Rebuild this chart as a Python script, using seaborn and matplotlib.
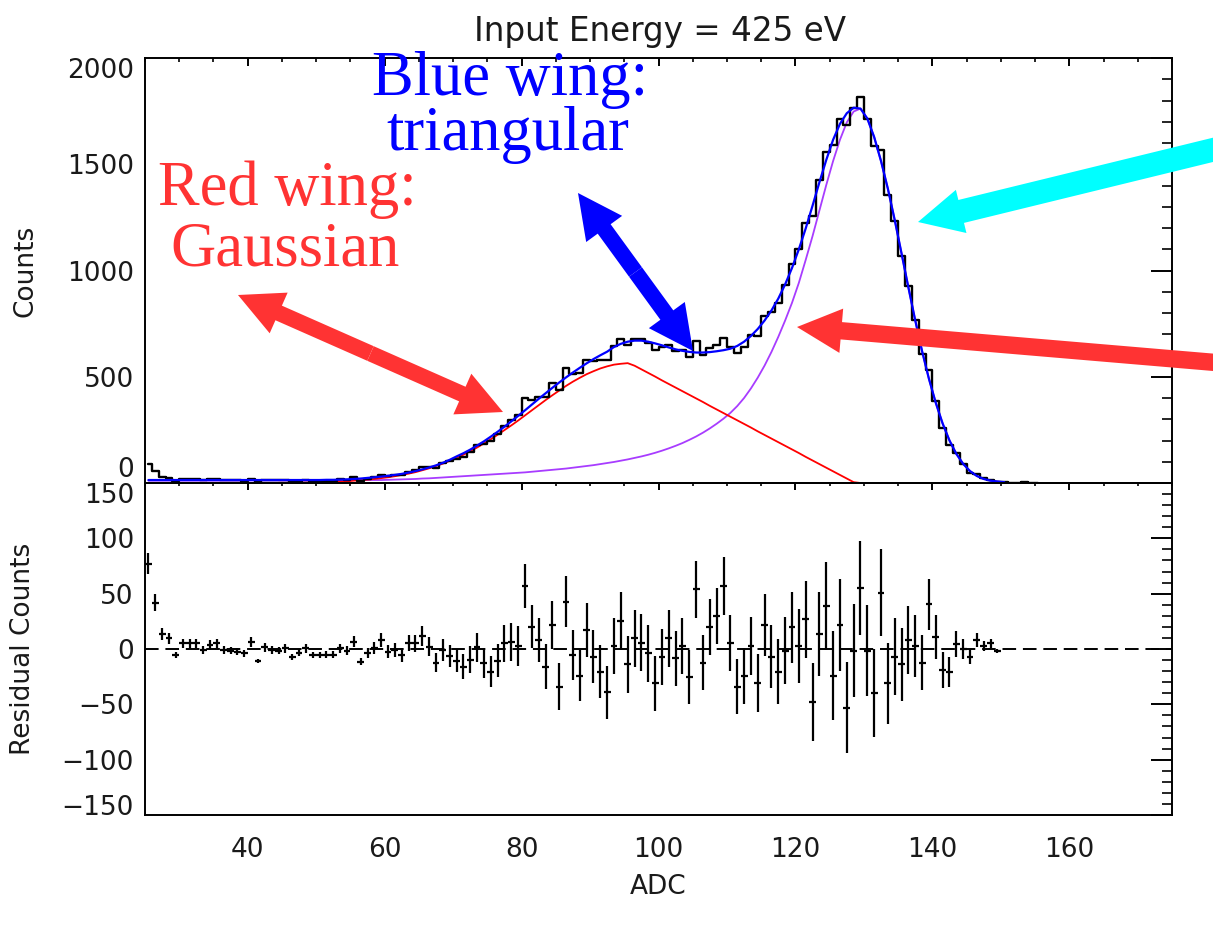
import numpy as np
import matplotlib
matplotlib.use("Agg")
import matplotlib.pyplot as plt
import seaborn as sns
from matplotlib.patches import FancyArrowPatch, ArrowStyle
from matplotlib.ticker import MultipleLocator

# ---------------- data ----------------
first_bin = 25
# histogram counts, ADC bins 25 .. 155
counts = [91, 56, 28, 24, 9, 19, 19, 19, 13, 18,
          19, 13, 12, 12, 10, 21, 3, 16, 13, 12,
          15, 7, 11, 15, 9, 9, 10, 10, 17, 16,
          26, 10, 21, 28, 38, 32, 37, 38, 54, 61,
          76, 75, 71, 94, 103, 115, 124, 147, 178, 184,
          198, 231, 270, 297, 319, 399, 389, 404, 406, 470,
          439, 540, 515, 518, 580, 576, 581, 579, 643, 680,
          651, 680, 676, 661, 626, 641, 648, 621, 625, 591,
          668, 602, 636, 650, 682, 638, 611, 641, 695, 694,
          787, 805, 848, 933, 1032, 1103, 1225, 1257, 1428, 1559,
          1591, 1712, 1687, 1764, 1817, 1713, 1588, 1566, 1354, 1231,
          1066, 928, 768, 608, 530, 388, 261, 179, 141, 90,
          49, 41, 22, 16, 5, 3, 2, 1, 3, 1, 1]

# total fit (blue), ADC 25 .. 150
total_fit = [14] * 26 + [
    15, 15, 16, 17, 19, 21, 24, 27, 30,
    34, 38, 43, 49, 56, 64, 73, 83, 95, 109,
    125, 140, 157, 176, 196, 218, 241, 265, 290, 316,
    342, 369, 396, 422, 448, 473, 497, 520, 542, 563,
    583, 601, 618, 640, 655, 665, 670, 670, 665, 657,
    648, 638, 629, 622, 617, 614, 614, 616, 620, 625,
    632, 645, 665, 692, 725, 765, 812, 868, 935, 1012,
    1100, 1198, 1305, 1415, 1520, 1615, 1690, 1740, 1766, 1762,
    1715, 1628, 1515, 1385, 1238, 1080, 920, 765, 620, 490,
    377, 280, 200, 137, 90, 56, 33, 19, 11, 7, 4]

# main peak component (purple), ADC 25 .. 150
peak_comp = [11] * 15 + [12] * 10 + [13] * 5 + [14] * 5 + [
    15, 16, 17, 18, 19, 21, 22, 24, 26, 28,
    30, 32, 34, 36, 38, 40, 42, 44, 46, 48,
    50, 53, 56, 59, 62, 65, 68, 72, 76, 80,
    84, 89, 94, 99, 105, 111, 118, 125, 133, 142,
    152, 163, 175, 188, 203, 219, 237, 257, 279, 303,
    330, 362, 400, 445, 496, 553, 617, 688, 765, 848,
    942, 1050, 1162, 1282, 1402, 1515, 1615, 1697, 1748, 1762,
    1715, 1628, 1515, 1385, 1238, 1080, 920, 765, 620, 490,
    377, 280, 200, 137, 90, 56, 33, 19, 11, 7, 4]

# low-energy wing component (red), ADC 44 .. 129
wing_first = 44
wing_comp = [1, 1, 1, 2, 2, 3,
             4, 4, 5, 7, 8, 11, 13, 16, 19, 23,
             27, 32, 38, 44, 51, 60, 69, 80, 91, 104,
             118, 133, 150, 167, 186, 206, 227, 249, 271, 294,
             318, 342, 366, 390, 413, 435, 457, 477, 495, 512,
             526, 539, 549, 557, 561, 564, 552, 535, 518, 501,
             483, 466, 449, 432, 415, 398, 381, 363, 346, 329,
             312, 295, 278, 261, 243, 226, 209, 192, 175, 158,
             141, 123, 106, 89, 72, 55, 38, 21, 4, 0]

# residuals (data - fit), ADC 25 .. 149
residuals = [77, 42, 13.5, 9.6, -5.4, 5.1, 5.1, 5.0, -1.0, 3.6,
             5.0, -1.0, -1.5, -2.4, -4.0, 6.6, -10.8, 1.5, -1.0, -1.5,
             0.6, -7.0, -3.3, 0.6, -5.4, -5.4, -5.4, -5.4, 0.6, -1.5,
             6.6, -11.4, -3.3, 0.6, 8.1, -2.4, -1.0, -5.4, 5.1, 5.0,
             11.7, 2.1, -12.3, -1.0, -6.3, -10.5, -16.0, -9.6, 1.5, -12.3,
             -20.4, -10.5, 5.1, 6.6, 2.7, 56.9, 20.2, 8.1, -16.0, 21.7,
             -34.0, 42.7, -5.4, -24.0, 17.2, -6.9, -20.5, -39.0, 2.7, 25.3,
             -14.0, 9.6, 5.7, -3.9, -31.0, -6.9, 9.6, -8.4, 2.7, -25.6,
             53.9, -12.3, 20.2, 29.9, 56.9, 5.7, -34.0, -24.0, 2.7, -31.0,
             21.7, -6.9, -20.5, -1.5, 19.6, 2.7, 26.8, -48.0, 13.3, 38.9,
             -24.0, 21.7, -53.0, -1.5, 55.4, -1.5, -40.0, 50.9, -31.0, -6.9,
             -14.0, 8.1, 2.7, -12.3, 40.4, 11.1, -19.0, -21.0, 4.5, 0.0,
             -6.9, 8.1, 2.7, 5.1, -1.8]

title_text = "Input Energy = 425 eV"
x_label = "ADC"
y_label_top = "Counts"
y_label_bottom = "Residual Counts"

# ---------------- style ----------------
sns.set_style("white")
plt.rcParams["font.family"] = ["DejaVu Sans"]
plt.rcParams["axes.unicode_minus"] = True

W, H = 1213, 933
fig = plt.figure(figsize=(W / 100, H / 100), dpi=100)
fig.patch.set_facecolor("white")

ax1 = fig.add_axes([145 / W, 1 - 483 / H, 1027 / W, 425 / H])
ax2 = fig.add_axes([145 / W, 1 - 815 / H, 1027 / W, 332 / H])

bins = np.arange(first_bin, first_bin + len(counts)) + 0.5
fit_x = np.arange(first_bin, first_bin + len(total_fit)) + 0.5
wing_x = np.arange(wing_first, wing_first + len(wing_comp)) + 0.5
res_x = np.arange(first_bin, first_bin + len(residuals)) + 0.5
res_err = np.sqrt(np.maximum(np.array(counts[:len(residuals)], float), 1.0))

# ---------------- top panel ----------------
sns.lineplot(x=fit_x, y=peak_comp, ax=ax1, color="#A83CFF", lw=1.3,
             estimator=None, sort=False, zorder=2)
sns.lineplot(x=wing_x, y=wing_comp, ax=ax1, color="#FF0000", lw=1.3,
             estimator=None, sort=False, zorder=2)
sns.lineplot(x=bins, y=counts, ax=ax1, color="black", lw=1.7,
             drawstyle="steps-mid", estimator=None, sort=False, zorder=3)
sns.lineplot(x=fit_x, y=total_fit, ax=ax1, color="#0000FF", lw=1.6,
             estimator=None, sort=False, zorder=4)

# ---------------- bottom panel ----------------
ax2.axhline(0, color="black", lw=1.4, ls=(0, (7, 3.5)), zorder=1)
ax2.errorbar(res_x, residuals, xerr=0.5, yerr=res_err, fmt="none",
             ecolor="black", elinewidth=1.6, capsize=0, zorder=3)

for ax in (ax1, ax2):
    ax.set_xlim(25, 175)
    ax.xaxis.set_major_locator(MultipleLocator(20))
    ax.xaxis.set_minor_locator(MultipleLocator(5))
    for sp in ax.spines.values():
        sp.set_visible(True)
        sp.set_color("black")
        sp.set_linewidth(1.4)
    ax.set_facecolor("none")
    ax.tick_params(which="both", direction="in", top=True, right=True,
                   colors="black", labelsize=19, labelcolor="#1a1a1a")
    ax.tick_params(axis="y", which="major", length=14.8, width=1.4, pad=8)
    ax.tick_params(axis="y", which="minor", length=7.4, width=1.2)

ax1.set_ylim(0, 2000)
ax1.set_yticks([0, 500, 1000, 1500, 2000])
ax1.yaxis.set_minor_locator(MultipleLocator(100))
ax1.tick_params(axis="x", which="major", length=6.1, width=1.4, labelbottom=False)
ax1.tick_params(axis="x", which="minor", length=3.1, width=1.2)
ax1.set_xlabel("")
ax1.set_ylabel(y_label_top, fontsize=19, color="#1a1a1a")
ax1.yaxis.set_label_coords(-0.104, 0.5)

ax2.set_ylim(-150, 150)
ax2.set_yticks([-150, -100, -50, 0, 50, 100, 150])
ax2.yaxis.set_minor_locator(MultipleLocator(10))
ax2.tick_params(axis="x", which="major", length=4.8, width=1.4, pad=16)
ax2.tick_params(axis="x", which="minor", length=2.4, width=1.2)
ax2.set_xlabel(x_label, fontsize=19, color="#1a1a1a", labelpad=8)
ax2.set_ylabel(y_label_bottom, fontsize=19, color="#1a1a1a")
ax2.yaxis.set_label_coords(-0.106, 0.5)

top_labs = ax1.get_yticklabels()
top_labs[0].set_va("bottom")
top_labs[-1].set_va("top")
bot_labs = ax2.get_yticklabels()
bot_labs[0].set_va("baseline")
bot_labs[-1].set_va("top")

fig.text(660 / W, 1 - 32 / H, title_text, ha="center", va="center",
         fontsize=23.5, color="#1a1a1a")

# ---------------- annotations ----------------
def fpt(x, y):
    return (x / W, 1 - y / H)


def arrow(p_from, p_to, color, tail):
    a = FancyArrowPatch(fpt(*p_from), fpt(*p_to), transform=fig.transFigure,
                        arrowstyle=ArrowStyle.Simple(head_length=32, head_width=32,
                                                     tail_width=tail),
                        mutation_scale=1, color=color, lw=0, shrinkA=0, shrinkB=0,
                        zorder=10)
    fig.add_artist(a)


def double_arrow(p1, p2, color, tail):
    m = ((p1[0] + p2[0]) / 2, (p1[1] + p2[1]) / 2)
    arrow(m, p1, color, tail)
    arrow(m, p2, color, tail)


red = "#FF3333"
double_arrow((238, 295), (503, 412), red, 11.5)
double_arrow((578, 193), (693, 351), "#0000FF", 11.5)
arrow((1245, 142), (918, 222), "#00FFFF", 17)
arrow((1245, 365), (797, 327), red, 12.5)

serif = ["Liberation Serif", "DejaVu Serif"]
fig.text(fpt(510, 95)[0], fpt(510, 95)[1], "Blue wing:", ha="center", va="baseline",
         family=serif, fontsize=45, color="#0000FF", zorder=11)
fig.text(fpt(508, 150)[0], fpt(508, 150)[1], "triangular", ha="center", va="baseline",
         family=serif, fontsize=45, color="#0000FF", zorder=11)
fig.text(fpt(287, 205)[0], fpt(287, 205)[1], "Red wing:", ha="center", va="baseline",
         family=serif, fontsize=45, color=red, zorder=11)
fig.text(fpt(285, 265)[0], fpt(285, 265)[1], "Gaussian", ha="center", va="baseline",
         family=serif, fontsize=45, color=red, zorder=11)

fig.savefig("out.png", dpi=100, facecolor="white")
